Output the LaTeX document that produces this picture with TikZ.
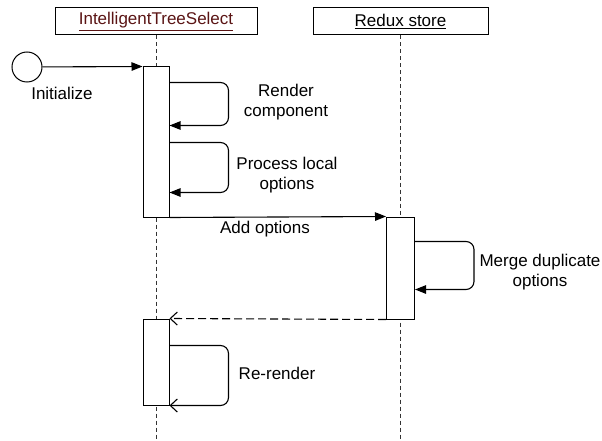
\documentclass[tikz,border=0pt]{standalone}
\usepackage{fontspec}
\setmainfont{Liberation Sans}
\usetikzlibrary{arrows.meta}

\definecolor{headred}{RGB}{90,20,20}

\tikzset{
  head/.style={draw, line width=1pt, minimum height=27pt, inner sep=0pt},
  act/.style={draw, fill=white, line width=1pt, minimum width=26pt, inner sep=0pt},
  life/.style={line width=1pt, dash pattern=on 4pt off 3pt, gray!40!black},
  msg/.style={line width=1.1pt, -{Triangle[length=11pt,width=8.5pt]}},
  ret/.style={line width=1.1pt, dash pattern=on 8pt off 4pt, -{Straight Barb[length=7pt,width=13pt]}},
  self/.style={msg, rounded corners=8pt},
  selfret/.style={line width=1.1pt, rounded corners=8pt, -{Straight Barb[length=7pt,width=13pt]}},
  lbl/.style={align=center, inner sep=0pt}
}

\begin{document}
\begin{tikzpicture}[x=1pt, y=-1pt, font=\fontsize{17}{19.5}\selectfont]
\useasboundingbox (0,0) rectangle (602,441);

% lifeline heads
\node[head, minimum width=202pt, text=headred] (h1) at (156,21.5) {\underline{IntelligentTreeSelect}};
\node[head, minimum width=175pt] (h2) at (400.5,21.5) {\underline{Redux store}};
\coordinate (e1) at (156,441);
\coordinate (e2) at (400.5,441);

\draw[life] (h1) -- (e1);
\draw[life] (h2) -- (e2);

% activations
\node[act, minimum height=150pt] (a1) at (156,142) {};
\node[act, minimum width=28pt, minimum height=102pt] (a2) at (400.5,268) {};
\node[act, minimum height=86pt] (a3) at (156,362) {};

% start
\node[draw, circle, line width=1pt, minimum size=30pt, inner sep=0pt] (init) at (27,67) {};
\node[lbl] (initl) at (62,93) {Initialize};
\draw[msg] (init) -- (a1.north west);

% self calls
\draw[self] ([yshift=-16pt]a1.north east) -- ++(59,0) |- ([yshift=-59pt]a1.north east);
\node[lbl] (l1) at (286,102) {Render\\component};

\draw[self] ([yshift=-76pt]a1.north east) -- ++(59,0) |- ([yshift=-126pt]a1.north east);
\node[lbl] (l2) at (287,175) {Process local\\options};

\draw[msg] (a1.south east) -- (a2.north west);
\node[lbl] (l3) at (265,229) {Add options};

\draw[self] ([yshift=-25pt]a2.north east) -- ++(59,0) |- ([yshift=-73pt]a2.north east);
\node[lbl] (l4) at (540,272) {Merge duplicate\\options};

\draw[ret] (a2.south west) -- (a3.north east);

\draw[selfret] ([yshift=-27pt]a3.north east) -- ++(59,0) |- (a3.south east);
\node[lbl] (l5) at (277,373) {Re-render};

\end{tikzpicture}
\end{document}
